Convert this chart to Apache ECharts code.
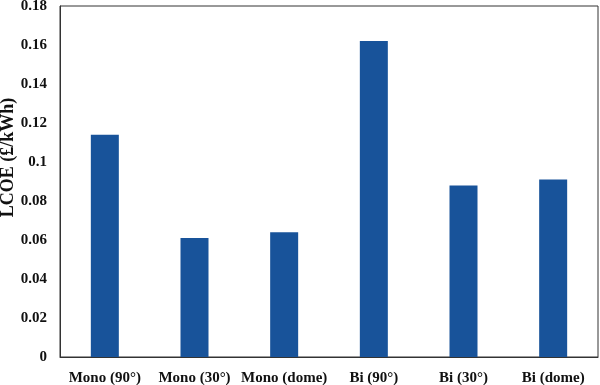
<!DOCTYPE html>
<html><head><meta charset="utf-8">
<script src="https://cdn.jsdelivr.net/npm/echarts@6/dist/echarts.min.js"></script>
<style>html,body{margin:0;padding:0;background:#fff}#c{width:600px;height:385px}</style>
</head><body><div id="c"></div>
<script>
const categories = ["Mono (90°)", "Mono (30°)", "Mono (dome)", "Bi (90°)", "Bi (30°)", "Bi (dome)"];
const lcoe = [0.114, 0.061, 0.064, 0.162, 0.088, 0.091];
const yTicks = [0, 0.02, 0.04, 0.06, 0.08, 0.1, 0.12, 0.14, 0.16, 0.18];

const font = "'Liberation Serif', 'Times New Roman', serif";
const chart = echarts.init(document.getElementById('c'), null, {renderer: 'canvas'});
chart.setOption({
  animation: false,
  grid: {left: 60, right: 2, top: 6, bottom: 28, show: true, borderColor: '#333', borderWidth: 1, backgroundColor: 'transparent', containLabel: false, outerBoundsMode: 'none'},
  xAxis: {
    type: 'category', data: categories,
    axisLine: {show: true, lineStyle: {color: '#333'}},
    axisTick: {show: false},
    axisLabel: {color: '#111', fontFamily: font, fontWeight: 'bold', fontSize: 15, margin: 14, interval: 0}
  },
  yAxis: {
    type: 'value', min: 0, max: 0.18, interval: 0.02,
    name: 'LCOE (£/kWh)', nameLocation: 'middle', nameGap: 43, nameMoveOverlap: false,
    nameTextStyle: {color: '#111', fontFamily: font, fontWeight: 'bold', fontSize: 18, padding: [0, 0, 0, 48]},
    axisLine: {show: true, lineStyle: {color: '#333'}},
    axisTick: {show: false},
    splitLine: {show: false},
    axisLabel: {color: '#111', fontFamily: font, fontWeight: 'bold', fontSize: 15, margin: 13,
      formatter: v => { const t = yTicks.find(x => Math.abs(x - v) < 1e-9); return t === undefined ? '' : String(t); }}
  },
  series: [{type: 'bar', data: lcoe, barWidth: 28, itemStyle: {color: '#18539A'}}]
});
</script></body></html>
